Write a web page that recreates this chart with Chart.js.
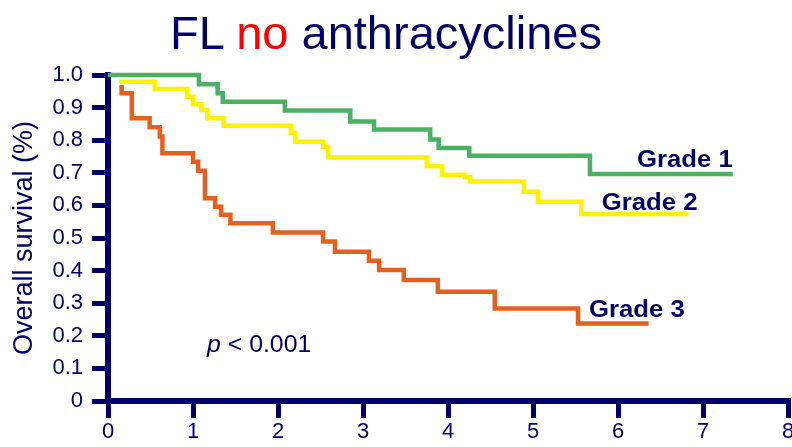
<!DOCTYPE html>
<html>
<head>
<meta charset="utf-8">
<script src="https://cdn.jsdelivr.net/npm/chart.js@4.4.0/dist/chart.umd.min.js"></script>
<style>
  html, body { margin: 0; padding: 0; background: #fff; }
  #wrap { position: relative; width: 792px; height: 447px; overflow: hidden; }
  #title {
    position: absolute; left: -10px; top: 9px; width: 792px;
    text-align: center; white-space: nowrap;
    font: 47px/47px "Liberation Sans", Arial, sans-serif;
    color: #000066;
  }
  #title .hl { color: #ff0000; }
  canvas { position: absolute; left: 0; top: 0; }
</style>
</head>
<body>
<div id="wrap">
  <canvas id="km" width="792" height="447"></canvas>
  <div id="title">FL <span class="hl">no</span> anthracyclines</div>
</div>
<script>
// Kaplan-Meier steps: time (years) and survival after each event
const grade1Time = [0, 1.07, 1.29, 1.35, 2.08, 2.85, 3.13, 3.79, 3.89, 4.25, 5.67, 7.35];
const grade1Surv = [1.0, 0.972, 0.944, 0.918, 0.891, 0.857, 0.833, 0.802, 0.776, 0.752, 0.696, 0.696];

const grade2Time = [0.13, 0.55, 0.93, 1.00, 1.10, 1.17, 1.36, 2.15, 2.20, 2.53, 2.59, 3.75, 3.93, 4.20, 4.26, 4.89, 5.06, 5.57, 6.83];
const grade2Surv = [0.979, 0.957, 0.933, 0.910, 0.893, 0.867, 0.844, 0.822, 0.795, 0.780, 0.747, 0.720, 0.694, 0.686, 0.673, 0.642, 0.611, 0.574, 0.574];

const grade3Time = [0.16, 0.16, 0.28, 0.49, 0.61, 0.64, 1.00, 1.06, 1.14, 1.26, 1.33, 1.44, 1.94, 2.53, 2.67, 3.07, 3.19, 3.48, 3.88, 4.55, 5.53, 6.36];
const grade3Surv = [0.969, 0.944, 0.867, 0.840, 0.811, 0.760, 0.734, 0.706, 0.622, 0.596, 0.571, 0.545, 0.517, 0.489, 0.458, 0.430, 0.402, 0.371, 0.335, 0.284, 0.238, 0.238];

const seriesNames = ["Grade 1", "Grade 2", "Grade 3"];
const xTicks = [0, 1, 2, 3, 4, 5, 6, 7, 8];
const yTicks = [0, 0.1, 0.2, 0.3, 0.4, 0.5, 0.6, 0.7, 0.8, 0.9, 1.0];
const pText = "< 0.001";

const NAVY = "#000066";
const FONT = "'Liberation Sans', Arial, sans-serif";

function toPoints(t, s) {
  return t.map((v, i) => ({ x: v, y: s[i] }));
}

// text drawn inside the plot: curve names and the p value
const noteLabels = {
  id: "noteLabels",
  afterDatasetsDraw(chart) {
    const { ctx, scales: { x, y } } = chart;
    const stretch = 1.07;
    const notes = [
      { text: seriesNames[0], x: 7.35, y: 0.718, align: "right" },
      { text: seriesNames[1], x: 5.81, y: 0.586, align: "left" },
      { text: seriesNames[2], x: 5.66, y: 0.258, align: "left" }
    ];
    ctx.save();
    ctx.fillStyle = NAVY;
    ctx.textBaseline = "alphabetic";
    ctx.font = "bold 24px " + FONT;
    notes.forEach(n => {
      const w = ctx.measureText(n.text).width * stretch;
      const px = n.align === "right" ? x.getPixelForValue(n.x) - w : x.getPixelForValue(n.x);
      ctx.save();
      ctx.translate(px, y.getPixelForValue(n.y));
      ctx.scale(stretch, 1);
      ctx.fillText(n.text, 0, 0);
      ctx.restore();
    });

    // p < 0.001
    const px = x.getPixelForValue(1.165);
    const py = y.getPixelForValue(0.151);
    ctx.save();
    ctx.translate(px, py);
    ctx.scale(1.08, 1);
    ctx.font = "italic 23px " + FONT;
    ctx.fillText("p", 0, 0);
    const pw = ctx.measureText("p ").width;
    ctx.font = "23px " + FONT;
    ctx.fillText(pText, pw, 0);
    ctx.restore();
    ctx.restore();
  }
};

const lineStyle = { borderWidth: 4.5, clip: false };

new Chart(document.getElementById("km"), {
  type: "line",
  data: {
    datasets: [
      { ...lineStyle, label: seriesNames[0], data: toPoints(grade1Time, grade1Surv), borderColor: "#4cb062" },
      { ...lineStyle, label: seriesNames[1], data: toPoints(grade2Time, grade2Surv), borderColor: "#fff200" },
      { ...lineStyle, label: seriesNames[2], data: toPoints(grade3Time, grade3Surv), borderColor: "#e4601f" }
    ]
  },
  options: {
    responsive: false,
    animation: false,
    layout: { padding: { top: 75, right: 4, left: 0, bottom: 0 } },
    elements: {
      line: { stepped: true, fill: false, borderCapStyle: "butt", borderJoinStyle: "miter" },
      point: { radius: 0, hoverRadius: 0 }
    },
    plugins: {
      legend: { display: false },
      tooltip: { enabled: false }
    },
    scales: {
      x: {
        type: "linear",
        min: 0,
        max: 8,
        afterBuildTicks: s => { s.ticks = xTicks.map(v => ({ value: v })); },
        afterFit: s => { s.height = 46; s.paddingLeft = 0; s.paddingRight = 0; },
        ticks: { color: NAVY, font: { family: FONT, size: 22 }, padding: 1, maxRotation: 0 },
        border: { display: true, color: NAVY, width: 6 },
        grid: { drawOnChartArea: false, drawTicks: true, tickLength: 17, tickWidth: 5, tickColor: NAVY, color: NAVY, lineWidth: 5 }
      },
      y: {
        min: 0,
        max: 1,
        afterBuildTicks: s => { s.ticks = yTicks.map(v => ({ value: v })); },
        afterFit: s => { s.width = 108; s.paddingTop = 0; s.paddingBottom = 0; },
        ticks: {
          color: NAVY,
          font: { family: FONT, size: 22 },
          padding: 9,
          callback: v => (v === 0 ? "0" : v.toFixed(1))
        },
        border: { display: true, color: NAVY, width: 6 },
        grid: { drawOnChartArea: false, drawTicks: true, tickLength: 16, tickWidth: 5, tickColor: NAVY, color: NAVY, lineWidth: 5 },
        title: {
          display: true,
          text: "Overall survival (%)",
          color: NAVY,
          font: { family: FONT, size: 27 },
          padding: { top: 8, bottom: 0 }
        }
      }
    }
  },
  plugins: [noteLabels]
});
</script>
</body>
</html>
